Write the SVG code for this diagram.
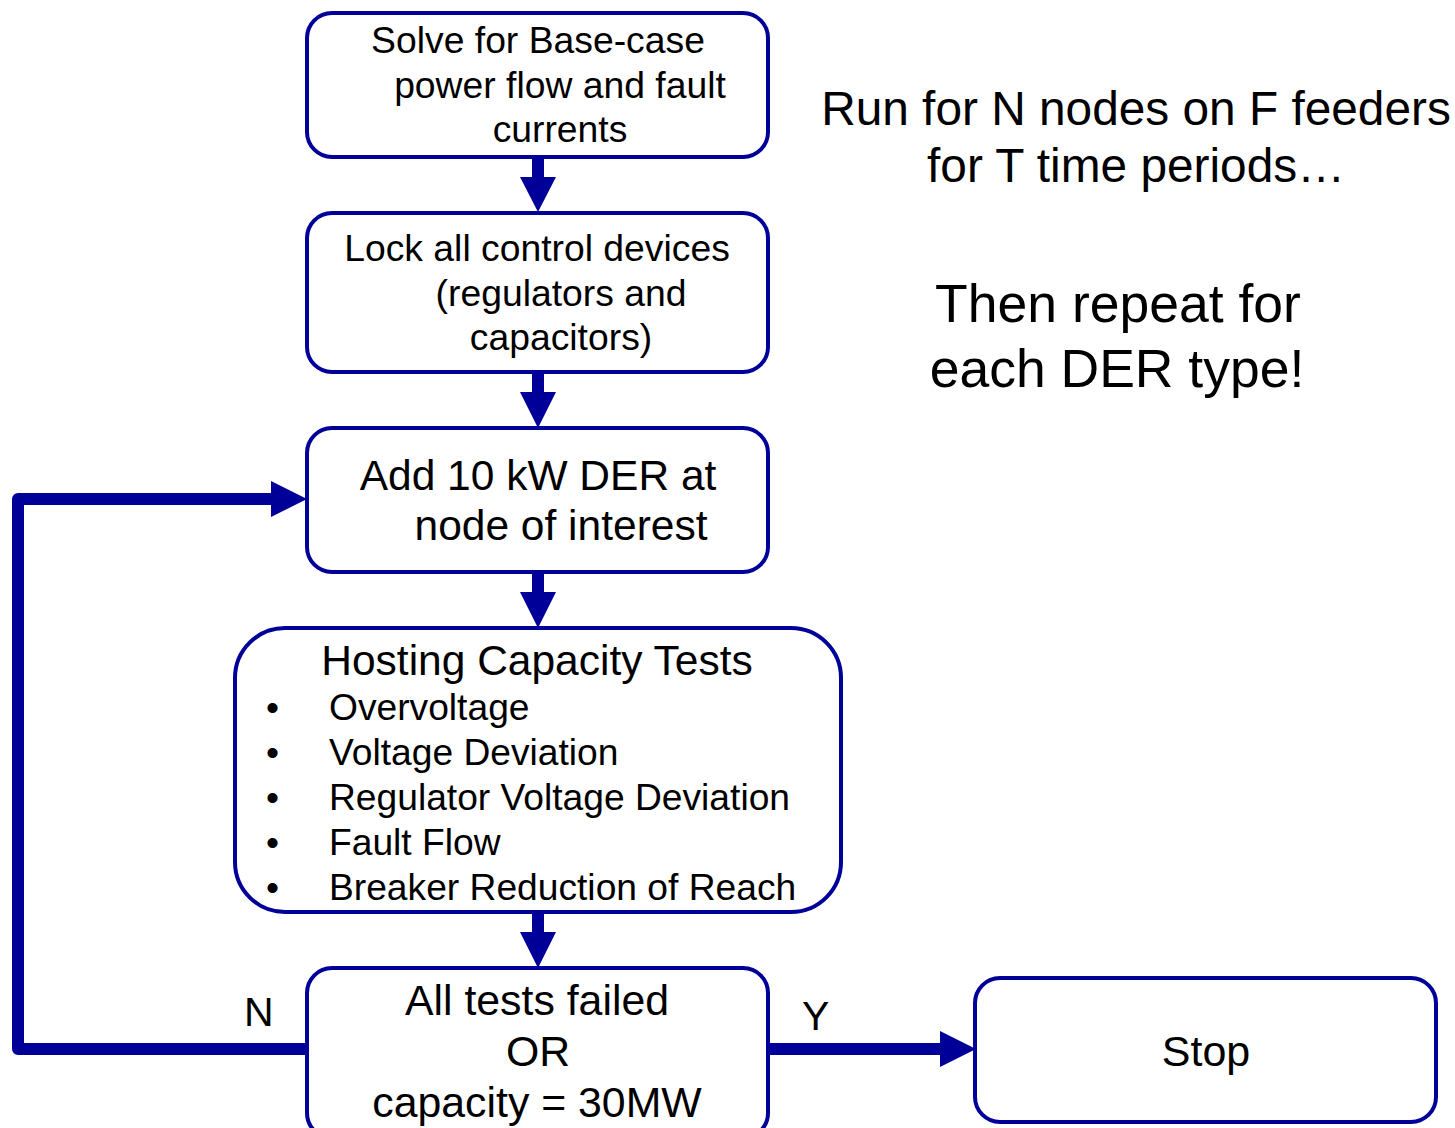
<svg xmlns="http://www.w3.org/2000/svg" width="1455" height="1128" viewBox="0 0 1455 1128">
<style>
.box{fill:#fff;stroke:#000099;stroke-width:4}
.t{font-family:"Liberation Sans",Arial,sans-serif;fill:#000;text-anchor:middle}
.s{font-family:"Liberation Sans",Arial,sans-serif;fill:#000}
.ln{fill:none;stroke:#000099;stroke-width:12}
.hd{fill:#000099}
</style>
<rect width="1455" height="1128" fill="#fff"/>
<g id="connectors">
<rect class="hd" x="532" y="157" width="12" height="21"/><polygon class="hd" points="520,177 556,177 538,212"/>
<rect class="hd" x="532" y="372" width="12" height="21"/><polygon class="hd" points="520,392 556,392 538,428"/>
<rect class="hd" x="532" y="572" width="12" height="21"/><polygon class="hd" points="520,592 556,592 538,628"/>
<rect class="hd" x="532" y="912" width="12" height="21"/><polygon class="hd" points="520,932 556,932 538,968"/>
<polyline class="ln" points="307,1049 18,1049 18,499 272,499" stroke-linejoin="round"/>
<polygon class="hd" points="271,481 307,499 271,517"/>
<line class="ln" x1="768" y1="1049" x2="941" y2="1049"/>
<polygon class="hd" points="940,1031 976,1049 940,1067"/>
<text class="s" x="244" y="1026" font-size="41">N</text>
<text class="s" x="802" y="1030" font-size="41">Y</text>
</g>
<g id="n1">
<rect class="box" x="307" y="13" width="461" height="144" rx="25"/>
<text class="t" font-size="37.3" x="538" y="53">Solve for Base-case</text>
<text class="t" font-size="37.3" x="560" y="98">power flow and fault</text>
<text class="t" font-size="37.3" x="560" y="142">currents</text>
</g>
<g id="n2">
<rect class="box" x="307" y="213" width="461" height="159" rx="25"/>
<text class="t" font-size="37.3" x="537" y="261">Lock all control devices</text>
<text class="t" font-size="37.3" x="561" y="306">(regulators and</text>
<text class="t" font-size="37.3" x="561" y="350">capacitors)</text>
</g>
<g id="n3">
<rect class="box" x="307" y="428" width="461" height="144" rx="25"/>
<text class="t" font-size="42.5" x="538" y="490">Add 10 kW DER at</text>
<text class="t" font-size="42.5" x="561" y="540">node of interest</text>
</g>
<g id="n4">
<rect class="box" x="235" y="628" width="606" height="284" rx="50"/>
<text class="t" font-size="42.5" x="537" y="675">Hosting Capacity Tests</text>
<g class="s" font-size="37.2">
<text x="266" y="720">•</text><text x="329" y="720">Overvoltage</text>
<text x="266" y="765">•</text><text x="329" y="765">Voltage Deviation</text>
<text x="266" y="810">•</text><text x="329" y="810">Regulator Voltage Deviation</text>
<text x="266" y="855">•</text><text x="329" y="855">Fault Flow</text>
<text x="266" y="900">•</text><text x="329" y="900">Breaker Reduction of Reach</text>
</g>
</g>
<g id="n5">
<rect class="box" x="307" y="968" width="461" height="170" rx="25"/>
<text class="t" font-size="42.8" x="537" y="1015">All tests failed</text>
<text class="t" font-size="42.8" x="538" y="1066">OR</text>
<text class="t" font-size="42.8" x="537" y="1117">capacity = 30MW</text>
</g>
<g id="stop">
<rect class="box" x="975" y="978" width="461" height="144" rx="25"/>
<text class="t" font-size="43" x="1206" y="1066">Stop</text>
</g>
<g id="note">
<text class="t" font-size="47.8" x="1136" y="125">Run for N nodes on F feeders</text>
<text class="t" font-size="47.8" x="1136" y="182">for T time periods…</text>
<text class="t" font-size="53.5" x="1118" y="322">Then repeat for</text>
<text class="t" font-size="53.5" x="1117" y="387">each DER type!</text>
</g>
</svg>
